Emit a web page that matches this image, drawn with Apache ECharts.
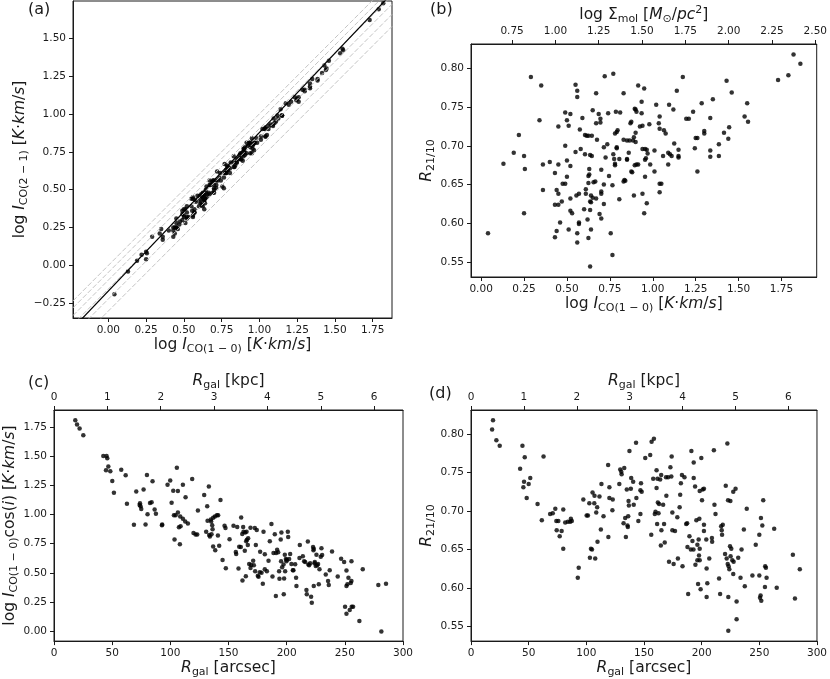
<!DOCTYPE html>
<html>
<head>
<meta charset="utf-8">
<script src="https://cdn.jsdelivr.net/npm/echarts@6/dist/echarts.min.js"></script>
<style>
  html, body { margin: 0; padding: 0; background: #fff; }
  #chart { width: 830px; height: 679px; }
</style>
</head>
<body>
<div id="chart"></div>
<script>
// per-pixel values, panels (a) and (b): log I_CO(1-0), R21/10, log I_CO(2-1)
const logI10 = [0.04,0.13,0.19,0.22,0.25,0.255,0.25,0.29,0.35,0.34,0.36,0.36,0.40,0.43,0.44,0.45,0.45,0.45,0.43,0.45,
  0.43,0.44,0.46,0.47,0.475,0.49,0.49,0.49,0.50,0.51,0.52,0.50,0.50,0.52,0.51,0.52,0.52,0.53,0.55,0.55,
  0.56,0.56,0.555,0.56,0.56,0.57,0.57,0.57,0.575,0.58,0.59,0.60,0.605,0.605,0.61,0.61,0.615,0.625,0.62,0.625,
  0.625,0.625,0.63,0.63,0.635,0.635,0.64,0.635,0.64,0.64,0.635,0.645,0.65,0.645,0.65,0.655,0.67,0.665,0.67,0.67,
  0.675,0.685,0.69,0.695,0.695,0.70,0.70,0.70,0.70,0.715,0.715,0.715,0.72,0.725,0.735,0.74,0.745,0.755,0.765,0.765,
  0.77,0.77,0.775,0.78,0.78,0.78,0.785,0.79,0.79,0.79,0.795,0.805,0.805,0.81,0.83,0.83,0.83,0.835,0.84,0.85,
  0.85,0.85,0.86,0.865,0.87,0.875,0.875,0.88,0.885,0.89,0.89,0.895,0.90,0.895,0.905,0.90,0.90,0.905,0.915,0.915,
  0.925,0.935,0.935,0.94,0.94,0.94,0.95,0.95,0.955,0.955,0.955,0.96,0.965,0.965,0.97,0.98,0.985,1.01,1.01,1.02,
  1.035,1.04,1.04,1.04,1.04,1.05,1.06,1.065,1.075,1.09,1.095,1.09,1.10,1.11,1.12,1.125,1.14,1.15,1.15,1.15,
  1.175,1.195,1.21,1.235,1.245,1.25,1.26,1.26,1.285,1.30,1.30,1.35,1.335,1.335,1.335,1.385,1.385,1.415,1.43,1.44,
  1.445,1.46,1.535,1.55,1.555,1.73,1.79,1.82,1.86];
const ratio21 = [0.587,0.677,0.691,0.714,0.687,0.670,0.613,0.789,0.778,0.733,0.676,0.643,0.679,0.665,0.643,0.725,0.676,0.638,0.624,0.624,
  0.582,0.590,0.601,0.628,0.651,0.651,0.700,0.743,0.733,0.726,0.741,0.681,0.660,0.674,0.592,0.632,0.616,0.613,0.692,0.779,
  0.771,0.763,0.636,0.587,0.575,0.638,0.601,0.599,0.721,0.696,0.736,0.618,0.689,0.714,0.644,0.638,0.713,0.581,0.605,0.652,
  0.661,0.713,0.663,0.670,0.617,0.628,0.627,0.544,0.592,0.636,0.688,0.713,0.746,0.687,0.633,0.653,0.632,0.654,0.729,0.768,
  0.708,0.741,0.612,0.735,0.730,0.669,0.641,0.638,0.606,0.650,0.698,0.625,0.790,0.685,0.702,0.742,0.661,0.587,0.559,0.649,
  0.793,0.689,0.683,0.677,0.675,0.716,0.744,0.718,0.697,0.698,0.720,0.631,0.683,0.743,0.654,0.768,0.708,0.656,0.655,0.682,
  0.683,0.707,0.691,0.707,0.729,0.731,0.667,0.666,0.707,0.636,0.711,0.748,0.747,0.675,0.744,0.717,0.705,0.676,0.778,0.676,
  0.725,0.742,0.757,0.696,0.638,0.726,0.613,0.774,0.696,0.682,0.660,0.684,0.626,0.695,0.690,0.728,0.676,0.694,0.667,0.753,
  0.729,0.738,0.722,0.640,0.651,0.651,0.687,0.720,0.716,0.691,0.753,0.676,0.689,0.687,0.747,0.703,0.771,0.695,0.685,0.687,
  0.789,0.735,0.735,0.744,0.697,0.710,0.710,0.667,0.755,0.716,0.719,0.760,0.736,0.694,0.686,0.702,0.687,0.717,0.784,0.709,
  0.724,0.769,0.738,0.755,0.731,0.785,0.791,0.818,0.806];
const logI21 = [-0.19,-0.04,0.03,0.07,0.09,0.08,0.04,0.19,0.24,0.21,0.19,0.17,0.23,0.25,0.25,0.31,0.28,0.25,0.23,0.25,
  0.19,0.21,0.24,0.27,0.29,0.30,0.34,0.36,0.37,0.37,0.39,0.33,0.32,0.35,0.28,0.32,0.31,0.32,0.39,0.44,
  0.45,0.44,0.36,0.33,0.32,0.37,0.35,0.35,0.43,0.42,0.46,0.39,0.44,0.46,0.42,0.41,0.47,0.39,0.40,0.44,
  0.45,0.48,0.45,0.46,0.43,0.43,0.44,0.37,0.41,0.44,0.47,0.50,0.52,0.48,0.45,0.47,0.47,0.48,0.53,0.56,
  0.53,0.55,0.48,0.56,0.56,0.53,0.51,0.50,0.48,0.53,0.56,0.51,0.62,0.56,0.58,0.61,0.56,0.52,0.51,0.58,
  0.67,0.61,0.61,0.61,0.61,0.63,0.66,0.65,0.63,0.63,0.65,0.61,0.64,0.68,0.65,0.72,0.68,0.65,0.66,0.68,
  0.68,0.70,0.70,0.71,0.73,0.74,0.70,0.70,0.73,0.69,0.74,0.77,0.77,0.72,0.78,0.76,0.75,0.73,0.81,0.74,
  0.79,0.81,0.81,0.78,0.74,0.80,0.74,0.84,0.80,0.79,0.77,0.80,0.76,0.81,0.81,0.84,0.81,0.85,0.83,0.90,
  0.90,0.91,0.90,0.85,0.85,0.86,0.90,0.92,0.93,0.93,0.97,0.92,0.94,0.95,0.99,0.97,1.03,0.99,0.99,0.99,
  1.07,1.06,1.08,1.11,1.09,1.10,1.11,1.08,1.16,1.15,1.16,1.23,1.20,1.18,1.17,1.23,1.22,1.27,1.32,1.29,
  1.30,1.35,1.40,1.43,1.42,1.62,1.69,1.73,1.77];

// panel (c): R_gal [arcsec], log I_CO(1-0) cos(i)
const rgalLogI = [[18.3,1.806],[19.8,1.77],[22.0,1.736],[25.2,1.677],[42.4,1.50],[45.2,1.50],[45.8,1.48],[46.7,1.41],[44.7,1.377],[48.4,1.369],
  [50.1,1.287],[51.5,1.185],[57.8,1.383],[61.6,1.335],[62.7,1.092],[68.7,0.912],[70.7,1.197],[73.9,1.095],[73.6,1.081],[74.4,1.07],
  [75.0,1.047],[77.0,1.214],[78.7,0.914],[79.9,1.338],[80.4,1.002],[82.5,1.098],[83.9,1.104],[84.7,1.284],[86.5,1.041],[87.6,1.005],
  [92.8,0.906],[93.0,0.914],[97.6,1.253],[99.9,1.29],[101.1,1.10],[102.5,1.202],[103.6,0.785],[103.1,0.993],[104.5,0.993],[105.6,1.40],
  [106.5,1.20],[106.5,1.016],[107.4,0.889],[108.2,0.745],[108.8,0.898],[108.5,0.982],[110.8,1.253],[110.8,0.962],[112.8,0.94],[113.1,1.146],
  [115.1,0.923],[118.8,1.304],[119.9,0.841],[121.7,0.827],[123.1,0.827],[123.7,1.033],[129.1,1.166],[130.8,0.852],[131.7,1.07],[132.0,0.946],
  [133.1,1.239],[133.4,0.824],[134.0,0.81],[134.8,0.957],[135.1,0.94],[135.4,0.83],[136.0,0.906],[136.3,0.872],[136.8,0.971],[136.8,0.725],
  [138.3,0.982],[138.6,0.694],[140.0,0.993],[140.9,0.819],[141.1,0.993],[142.0,0.731],[143.1,1.123],[144.9,0.61],[146.6,0.903],[147.4,0.883],
  [147.7,0.539],[150.9,0.787],[154.3,0.903],[156.3,0.677],[156.6,0.66],[157.5,0.892],[158.6,0.536],[159.2,0.723],[160.6,0.72],[160.9,0.974],
  [161.8,0.833],[162.0,0.435],[162.6,0.892],[162.9,0.852],[164.0,0.689],[164.3,0.844],[165.2,0.771],[165.5,0.852],[164.9,0.471],[165.8,0.782],
  [166.6,0.739],[166.9,0.796],[168.9,0.886],[167.8,0.576],[168.9,0.542],[169.5,0.567],[171.2,0.604],[171.8,0.564],[172.6,0.883],[172.9,0.514],
  [173.5,0.737],[174.3,0.866],[175.2,0.474],[175.8,0.466],[176.9,0.505],[177.2,0.68],[178.4,0.50],[179.5,0.406],[180.1,0.852],[181.2,0.658],
  [181.2,0.531],[183.0,0.514],[184.4,0.604],[185.5,0.771],[186.9,0.917],[187.8,0.469],[188.7,0.669],[189.8,0.83],[190.7,0.302],[190.9,0.669],
  [191.8,0.697],[192.7,0.675],[193.5,0.514],[193.8,0.449],[194.9,0.785],[195.2,0.598],[195.5,0.844],[196.1,0.548],[197.3,0.57],[197.5,0.316],
  [197.8,0.452],[198.4,0.655],[198.7,0.514],[199.3,0.618],[199.8,0.598],[200.1,0.612],[201.0,0.852],[201.3,0.807],[202.1,0.618],[203.0,0.66],
  [204.1,0.576],[205.3,0.522],[205.8,0.522],[207.3,0.573],[208.1,0.457],[208.4,0.387],[211.3,0.739],[211.0,0.627],[213.9,0.641],[215.0,0.598],
  [215.9,0.593],[217.0,0.353],[217.3,0.316],[218.2,0.768],[218.7,0.57],[219.3,0.564],[220.2,0.581],[221.0,0.294],[221.6,0.243],[222.7,0.72],
  [223.0,0.694],[223.3,0.706],[223.3,0.387],[223.9,0.581],[224.2,0.593],[225.0,0.559],[225.6,0.655],[226.2,0.564],[227.0,0.576],[227.6,0.401],
  [228.2,0.531],[229.3,0.638],[229.9,0.711],[230.5,0.652],[233.6,0.485],[235.6,0.429],[236.2,0.395],[237.0,0.522],[239.0,0.683],[243.9,0.469],
  [246.8,0.621],[249.4,0.593],[250.2,0.209],[251.4,0.519],[251.4,0.387],[252.2,0.401],[251.4,0.15],[253.1,0.457],[254.2,0.181],[255.1,0.412],
  [255.7,0.598],[255.7,0.429],[255.9,0.209],[257.1,0.209],[262.5,0.087],[265.4,0.531],[278.8,0.395],[281.4,-0.003],[285.4,0.406]];

// panel (d): R_gal [arcsec], R21/10
const rgalRatio = [[19.1,0.818],[18.3,0.806],[22.0,0.792],[24.9,0.785],[44.6,0.785],[46.6,0.770],[42.6,0.755],[46.0,0.738],[45.4,0.731],[50.0,0.735],
  [51.4,0.743],[48.3,0.717],[57.7,0.709],[62.9,0.771],[61.4,0.688],[68.6,0.696],[70.9,0.697],[73.1,0.703],[74.0,0.687],[75.7,0.687],
  [74.3,0.675],[76.9,0.667],[78.6,0.674],[80.0,0.702],[80.0,0.651],[81.7,0.685],[84.0,0.686],[86.0,0.686],[87.4,0.687],[86.6,0.690],
  [92.6,0.613],[93.4,0.626],[97.4,0.715],[100.3,0.694],[101.4,0.694],[102.6,0.710],[103.1,0.639],[104.0,0.651],[104.9,0.650],[105.4,0.724],
  [106.9,0.710],[107.1,0.720],[107.7,0.638],[108.6,0.698],[109.7,0.660],[109.4,0.705],[111.4,0.719],[112.6,0.676],[113.1,0.735],[114.9,0.693],
  [118.9,0.760],[119.1,0.666],[120.0,0.731],[120.0,0.717],[122.9,0.715],[122.6,0.701],[128.6,0.735],[129.4,0.754],[130.3,0.751],[130.6,0.748],
  [132.3,0.684],[132.9,0.756],[133.7,0.691],[134.3,0.666],[135.1,0.728],[135.7,0.681],[136.0,0.679],[136.3,0.693],[136.6,0.713],[136.9,0.707],
  [137.4,0.778],[138.6,0.729],[138.9,0.743],[140.6,0.738],[141.1,0.708],[143.1,0.789],[143.4,0.717],[145.1,0.687],[146.9,0.727],[146.9,0.696],
  [147.4,0.736],[148.0,0.725],[151.1,0.769],[155.4,0.773],[156.3,0.669],[156.6,0.790],[158.6,0.794],[158.0,0.742],[159.4,0.696],[160.0,0.699],
  [160.9,0.753],[160.9,0.730],[161.4,0.683],[161.7,0.742],[162.0,0.711],[162.6,0.697],[163.1,0.709],[164.0,0.741],[164.6,0.655],[164.9,0.747],
  [165.1,0.675],[166.6,0.708],[167.4,0.683],[168.0,0.659],[169.1,0.744],[169.4,0.720],[170.9,0.744],[171.7,0.634],[172.9,0.757],[173.7,0.745],
  [174.0,0.771],[174.6,0.698],[174.6,0.675],[175.7,0.631],[176.9,0.674],[178.9,0.692],[179.4,0.638],[180.9,0.705],[181.4,0.721],[182.0,0.736],
  [182.9,0.747],[183.4,0.628],[185.1,0.744],[186.6,0.683],[187.4,0.684],[187.7,0.653],[188.3,0.592],[189.4,0.667],[190.6,0.650],[191.1,0.778],
  [192.0,0.661],[192.9,0.650],[193.1,0.743],[193.1,0.763],[194.3,0.732],[194.6,0.630],[195.4,0.688],[196.3,0.636],[196.3,0.656],[196.9,0.605],
  [197.4,0.663],[197.7,0.642],[198.0,0.690],[198.3,0.726],[198.3,0.636],[198.3,0.651],[199.1,0.598],[199.7,0.769],[200.3,0.714],[200.9,0.728],
  [202.0,0.729],[202.0,0.682],[202.0,0.674],[204.0,0.663],[204.3,0.625],[204.3,0.588],[204.9,0.606],[206.6,0.638],[208.9,0.665],[209.1,0.660],
  [210.6,0.779],[211.1,0.708],[212.0,0.696],[215.1,0.612],[216.0,0.592],[216.9,0.680],[217.4,0.675],[217.7,0.669],[218.3,0.682],[220.3,0.644],
  [220.9,0.733],[221.7,0.638],[222.3,0.788],[222.9,0.714],[222.6,0.631],[223.1,0.588],[223.1,0.544],[223.4,0.628],[224.0,0.624],[224.6,0.654],
  [224.9,0.713],[225.1,0.641],[225.7,0.651],[226.6,0.636],[227.4,0.618],[227.4,0.725],[227.7,0.634],[229.4,0.729],[230.3,0.559],[230.3,0.582],
  [231.7,0.639],[234.6,0.650],[233.7,0.613],[236.6,0.676],[237.4,0.602],[239.1,0.703],[244.0,0.616],[246.9,0.656],[250.0,0.616],[250.0,0.669],
  [250.6,0.587],[251.1,0.590],[251.7,0.583],[251.4,0.691],[252.6,0.681],[253.4,0.714],[254.9,0.601],[255.1,0.628],[255.7,0.626],[256.3,0.613],
  [262.9,0.677],[265.1,0.600],[279.1,0.643],[280.9,0.586],[285.1,0.624]];

// fit line and constant-ratio reference lines in (a)
const fitSlope = 1.046;
const fitIntercept = -0.169;
const ratioRefs = [1.0, 0.9, 0.8, 0.7, 0.6, 0.5];

// axis ranges and tick labels
const aXRange = [-0.234, 1.878], aYRange = [-0.347, 1.745];
const bXRange = [-0.059, 1.955], ratioRange = [0.5306, 0.8315];
const sigmaRange = [0.513, 2.508];
const cYRange = [-0.085, 1.894];
const kpcMax = 6.54;
const logTicks = [0, 0.25, 0.5, 0.75, 1.0, 1.25, 1.5, 1.75];
const aYTicks = [-0.25, 0, 0.25, 0.5, 0.75, 1.0, 1.25, 1.5];
const ratioTicks = [0.55, 0.6, 0.65, 0.7, 0.75, 0.8];
const sigmaTicks = [0.75, 1.0, 1.25, 1.5, 1.75, 2.0, 2.25, 2.5];
const kpcTicks = [0, 1, 2, 3, 4, 5, 6];

const FONT = 'DejaVu Sans';
const INK = '#1a1a1a';
const RICH = {
  n: { fontSize: 15.5, fontFamily: FONT, color: INK },
  i: { fontSize: 15.5, fontFamily: FONT, fontStyle: 'italic', color: INK },
  s: { fontSize: 11, fontFamily: FONT, color: INK, padding: [9, 0, 0, 0] },
  p: { fontSize: 11, fontFamily: FONT, color: INK, padding: [0, 0, 9, 0] }
};
const fmt2 = v => v.toFixed(2).replace('-', '\u2212');

function axis(extra) {
  return Object.assign({
    type: 'value',
    axisLine: { show: true, onZero: false, lineStyle: { color: INK, width: 1 } },
    axisTick: { show: true, inside: false, length: 4, lineStyle: { color: INK } },
    axisLabel: { color: INK, fontSize: 10.5, fontFamily: FONT, margin: 7 },
    splitLine: { show: false },
    nameLocation: 'middle',
    nameTextStyle: { rich: RICH }
  }, extra);
}
function custom(ticks, formatter, extra) {
  return axis(Object.assign({
    axisTick: { show: true, inside: false, length: 4, lineStyle: { color: INK }, customValues: ticks },
    axisLabel: { color: INK, fontSize: 10.5, fontFamily: FONT, margin: 7, customValues: ticks, formatter: formatter }
  }, extra));
}

const NAME_I10 = '{n|log }{i|I}{s|CO(1 \u2212 0)}{n| [}{i|K}{n|\u00b7}{i|km}{n|/}{i|s}{n|]}';
const NAME_I21 = '{n|log }{i|I}{s|CO(2 \u2212 1)}{n| [}{i|K}{n|\u00b7}{i|km}{n|/}{i|s}{n|]}';
const NAME_ICOS = '{n|log }{i|I}{s|CO(1 \u2212 0)}{n|cos(}{i|i}{n|) [}{i|K}{n|\u00b7}{i|km}{n|/}{i|s}{n|]}';
const NAME_R = '{i|R}{s|21/10}';
const NAME_SIGMA = '{n|log \u03a3}{s|mol}{n| [}{i|M}{s|\u2299}{n|/}{i|pc}{p|2}{n|]}';
const NAME_KPC = '{i|R}{s|gal}{n| [kpc]}';
const NAME_ARC = '{i|R}{s|gal}{n| [arcsec]}';

const frame = { show: true, borderColor: INK, borderWidth: 1, backgroundColor: 'transparent' };
const grids = [
  Object.assign({ left: 73, top: 1, width: 319, height: 317 }, frame),
  Object.assign({ left: 471, top: 44, width: 350, height: 233 }, frame),
  Object.assign({ left: 54, top: 410, width: 349, height: 234 }, frame),
  Object.assign({ left: 471, top: 410, width: 350, height: 234 }, frame)
];

const xAxes = [
  custom(logTicks, fmt2, { gridIndex: 0, min: aXRange[0], max: aXRange[1], name: NAME_I10, nameGap: 14 }),
  custom(logTicks, fmt2, { gridIndex: 1, min: bXRange[0], max: bXRange[1], name: NAME_I10, nameGap: 14 }),
  custom(sigmaTicks, fmt2, { gridIndex: 1, position: 'top', min: sigmaRange[0], max: sigmaRange[1], name: NAME_SIGMA, nameGap: 13 }),
  axis({ gridIndex: 2, min: 0, max: 300, interval: 50, name: NAME_ARC, nameGap: 15 }),
  custom(kpcTicks, v => String(v), { gridIndex: 2, position: 'top', min: 0, max: kpcMax, name: NAME_KPC, nameGap: 12 }),
  axis({ gridIndex: 3, min: 0, max: 300, interval: 50, name: NAME_ARC, nameGap: 15 }),
  custom(kpcTicks, v => String(v), { gridIndex: 3, position: 'top', min: 0, max: kpcMax, name: NAME_KPC, nameGap: 12 })
];
const yAxes = [
  custom(aYTicks, fmt2, { gridIndex: 0, min: aYRange[0], max: aYRange[1], name: NAME_I21, nameGap: 39 }),
  custom(ratioTicks, fmt2, { gridIndex: 1, min: ratioRange[0], max: ratioRange[1], name: NAME_R, nameGap: 31 }),
  custom(logTicks, fmt2, { gridIndex: 2, min: cYRange[0], max: cYRange[1], name: NAME_ICOS, nameGap: 31 }),
  custom(ratioTicks, fmt2, { gridIndex: 3, min: ratioRange[0], max: ratioRange[1], name: NAME_R, nameGap: 31 })
];

const dot = { symbol: 'circle', symbolSize: 4.5, itemStyle: { color: '#000' }, silent: true, animation: false };

const series = [];
ratioRefs.forEach(r => {
  const off = Math.log10(r);
  series.push({
    type: 'line', xAxisIndex: 0, yAxisIndex: 0, symbol: 'none', silent: true, animation: false, clip: true,
    lineStyle: { color: '#c4c4c4', width: 1, type: [5, 2] },
    data: [[aXRange[0], aXRange[0] + off], [aXRange[1], aXRange[1] + off]]
  });
});
series.push(Object.assign({ type: 'scatter', xAxisIndex: 0, yAxisIndex: 0,
  data: logI10.map((x, k) => [x, logI21[k]]) }, dot));
series.push({
  type: 'line', xAxisIndex: 0, yAxisIndex: 0, symbol: 'none', silent: true, animation: false, clip: true,
  lineStyle: { color: '#000', width: 1.2 },
  data: [[aXRange[0], fitSlope * aXRange[0] + fitIntercept], [aXRange[1], fitSlope * aXRange[1] + fitIntercept]]
});
series.push(Object.assign({ type: 'scatter', xAxisIndex: 1, yAxisIndex: 1,
  data: logI10.map((x, k) => [x, ratio21[k]]) }, dot));
series.push(Object.assign({ type: 'scatter', xAxisIndex: 3, yAxisIndex: 2, data: rgalLogI }, dot));
series.push(Object.assign({ type: 'scatter', xAxisIndex: 5, yAxisIndex: 3, data: rgalRatio }, dot));

const panelLabel = (txt, x, y) => ({
  type: 'text', left: x, top: y, silent: true,
  style: { text: txt, font: '16px "DejaVu Sans"', fill: INK }
});

const chart = echarts.init(document.getElementById('chart'), null, { renderer: 'canvas' });
chart.setOption({
  animation: false,
  backgroundColor: '#fff',
  grid: grids,
  xAxis: xAxes,
  yAxis: yAxes,
  series: series,
  graphic: [
    panelLabel('(a)', 28, 2),
    panelLabel('(b)', 430, 2),
    panelLabel('(c)', 28, 375),
    panelLabel('(d)', 429, 386)
  ]
});
</script>
</body>
</html>
